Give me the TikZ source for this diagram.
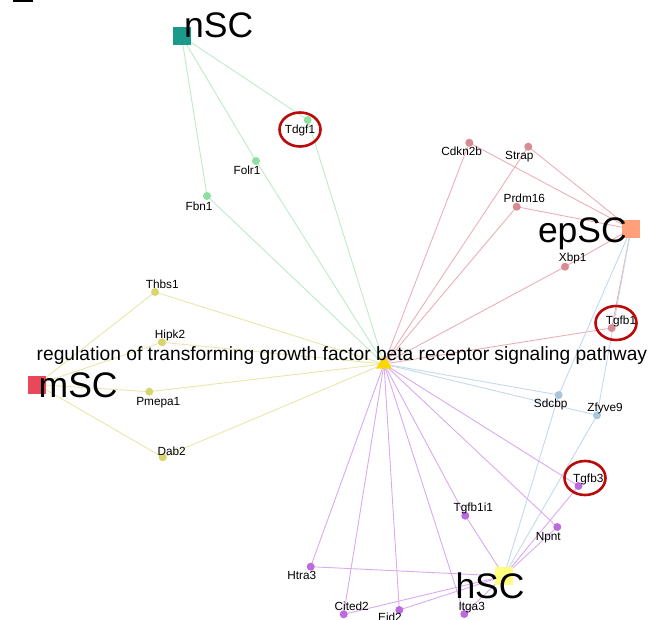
\documentclass[tikz,border=0pt]{standalone}
\usepackage{fontspec}
\setmainfont{Liberation Sans}
\usetikzlibrary{shapes.geometric}
\definecolor{gnode}{HTML}{8EE0A0}
\definecolor{gedge}{HTML}{BDEBC9}
\definecolor{teal1}{HTML}{1B9A8A}
\definecolor{pnode}{HTML}{D98A92}
\definecolor{pedge}{HTML}{EBB0B6}
\definecolor{salmon1}{HTML}{FFA07A}
\definecolor{msc}{HTML}{E8485A}
\definecolor{ynode}{HTML}{D9D56E}
\definecolor{yedge}{HTML}{E8E6AA}
\definecolor{hsc}{HTML}{FFFF80}
\definecolor{vnode}{HTML}{BB6AE0}
\definecolor{vedge}{HTML}{D9AAF0}
\definecolor{bnode}{HTML}{AAC6DE}
\definecolor{bedge}{HTML}{C6D8EA}
\definecolor{gold1}{HTML}{FFD700}
\definecolor{ring}{HTML}{BB0A0A}
\pgfdeclarelayer{bg}
\pgfsetlayers{bg,main}
\tikzset{
  gene/.style={circle,inner sep=0pt,minimum size=8pt},
  clus/.style={rectangle,inner sep=0pt,minimum size=18pt},
  lab/.style={anchor=base,inner sep=0pt,font=\fontsize{11.8}{12}\selectfont},
  biglab/.style={inner sep=0pt,font=\fontsize{35.5}{36}\selectfont},
  edge/.style={line width=0.9pt},
  hl/.style={ellipse,draw=ring,line width=2.6pt,inner sep=0pt,minimum width=41pt,minimum height=34pt},
}
\begin{document}
\begin{tikzpicture}[x=1pt,y=-1pt]
\useasboundingbox (0,0) rectangle (651,619);
\clip (0,0) rectangle (651,619);
\fill[black] (13,0) rectangle (33,2.3);
% centre
\node[regular polygon,regular polygon sides=3,fill=gold1,inner sep=0pt,minimum size=18pt] (C) at (384,364) {};
% clusters
\node[clus,fill=teal1] (nSC) at (181.5,36) {};
\node[clus,fill=salmon1] (epSC) at (631,229) {};
\node[clus,fill=msc] (mSC) at (37,384.5) {};
\node[clus,fill=hsc] (hSC) at (504,576) {};
% genes
\node[gene,fill=gnode] (Tdgf1) at (307.7,120) {};
\node[gene,fill=gnode] (Folr1) at (256,161) {};
\node[gene,fill=gnode] (Fbn1) at (207,196) {};
\node[gene,fill=pnode] (Cdkn2b) at (469.3,142.7) {};
\node[gene,fill=pnode] (Strap) at (528.3,146.7) {};
\node[gene,fill=pnode] (Prdm16) at (516.7,206.7) {};
\node[gene,fill=pnode] (Xbp1) at (565,266.7) {};
\node[gene,fill=pnode] (Tgfb1) at (611.7,328) {};
\node[gene,fill=ynode] (Thbs1) at (155,292) {};
\node[gene,fill=ynode] (Hipk2) at (162,342.3) {};
\node[gene,fill=ynode] (Pmepa1) at (149.3,391.7) {};
\node[gene,fill=ynode] (Dab2) at (162.7,457.3) {};
\node[gene,fill=bnode] (Sdcbp) at (558.7,395) {};
\node[gene,fill=bnode] (Zfyve9) at (597,415.3) {};
\node[gene,fill=vnode] (Tgfb3) at (578.5,486) {};
\node[gene,fill=vnode] (Npnt) at (557.3,527) {};
\node[gene,fill=vnode] (Tgfb1i1) at (465.3,515.7) {};
\node[gene,fill=vnode] (Htra3) at (310.7,566.7) {};
\node[gene,fill=vnode] (Cited2) at (343.7,614.3) {};
\node[gene,fill=vnode] (Eid2) at (399.3,610) {};
\node[gene,fill=vnode] (Itga3) at (464.3,614) {};
% edges
\begin{pgfonlayer}{bg}
\foreach \g in {Tdgf1,Folr1,Fbn1}{
  \draw[edge,gedge] (nSC.center) -- (\g.center) -- (C.center);}
\foreach \g in {Cdkn2b,Strap,Prdm16,Xbp1,Tgfb1}{
  \draw[edge,pedge] (epSC.center) -- (\g.center) -- (C.center);}
\foreach \g in {Thbs1,Hipk2,Pmepa1,Dab2}{
  \draw[edge,yedge] (mSC.center) -- (\g.center) -- (C.center);}
\foreach \g in {Sdcbp,Zfyve9}{
  \draw[edge,bedge] (epSC.center) -- (\g.center) -- (hSC.center);
  \draw[edge,bedge] (\g.center) -- (C.center);}
\foreach \g in {Tgfb3,Npnt,Tgfb1i1,Htra3,Cited2,Eid2,Itga3}{
  \draw[edge,vedge] (hSC.center) -- (\g.center) -- (C.center);}
\end{pgfonlayer}
% labels
\node[lab] (lTdgf1) at (300,133) {Tdgf1};
\node[lab] (lFolr1) at (247,174.7) {Folr1};
\node[lab] (lFbn1) at (199,210) {Fbn1};
\node[lab] (lCdkn2b) at (461.7,155) {Cdkn2b};
\node[lab] (lStrap) at (519.3,159.3) {Strap};
\node[lab] (lPrdm16) at (524.3,202.3) {Prdm16};
\node[lab] (lXbp1) at (572.7,261.7) {Xbp1};
\node[lab] (lTgfb1) at (621,324.5) {Tgfb1};
\node[lab] (lThbs1) at (162.3,288.3) {Thbs1};
\node[lab] (lHipk2) at (170,338.3) {Hipk2};
\node[lab] (lPmepa1) at (158.3,405.7) {Pmepa1};
\node[lab] (lDab2) at (171.7,455) {Dab2};
\node[lab] (lSdcbp) at (550.7,407.7) {Sdcbp};
\node[lab] (lZfyve9) at (605,411) {Zfyve9};
\node[lab] (lTgfb3) at (588.3,482.3) {Tgfb3};
\node[lab] (lTgfb1i1) at (473.3,511.7) {Tgfb1i1};
\node[lab] (lNpnt) at (548.3,540) {Npnt};
\node[lab] (lHtra3) at (301.7,579.3) {Htra3};
\node[lab] (lCited2) at (351.7,610) {Cited2};
\node[lab] (lEid2) at (390,621.5) {Eid2};
\node[lab] (lItga3) at (471.7,610.7) {Itga3};
% cluster labels
\node[biglab,anchor=base west] (tnSC) at (184,37) {nSC};
\node[biglab,anchor=base east] (tepSC) at (627,242) {epSC};
\node[biglab,anchor=base west] (tmSC) at (38.5,397.7) {mSC};
\node[biglab,anchor=base west] (thSC) at (455.3,598.3) {hSC};
\node[anchor=base west,inner sep=0pt,font=\fontsize{19.2}{20}\selectfont] (title) at (36.5,360) {regulation of transforming growth factor beta receptor signaling pathway};
% highlight rings
\node[hl] (r1) at (300,129.5) {};
\node[hl] (r2) at (616,323) {};
\node[hl] (r3) at (585,478) {};
\end{tikzpicture}
\end{document}
